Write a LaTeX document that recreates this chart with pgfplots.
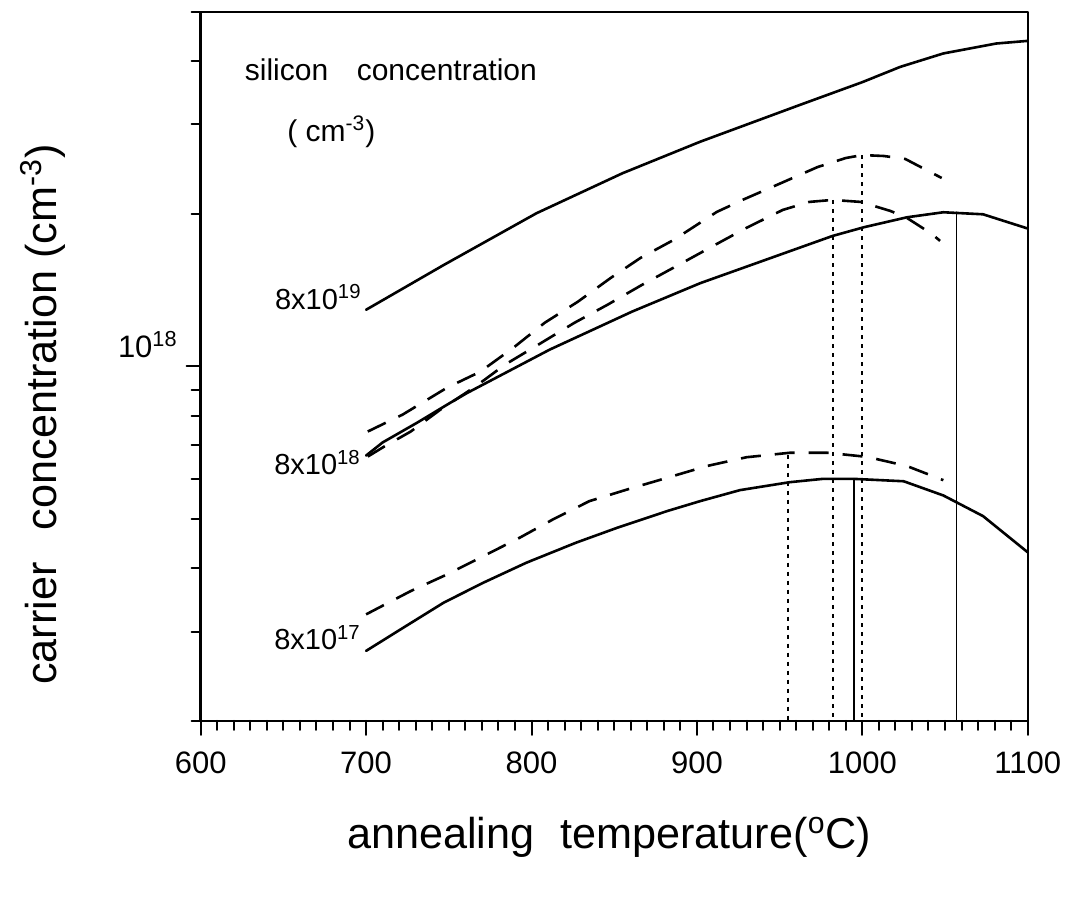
\documentclass[border=0pt]{standalone}
\usepackage{pgfplots}
\pgfplotsset{compat=1.18}
\usepackage{pgfplotstable}
\usepackage{fontspec}
\setmainfont{Liberation Sans}

\pgfplotstableread{
x y
700 1.293e18
747 1.585e18
803 2.004e18
855 2.403e18
902 2.773e18
962 3.275e18
1000 3.634e18
1023 3.896e18
1049 4.14e18
1081 4.331e18
1100 4.383e18
}\solidnineteen

\pgfplotstableread{
x y
700 6.67e17
710 7.08e17
731 7.75e17
751 8.48e17
761 8.86e17
811 1.079e18
861 1.283e18
902 1.459e18
982 1.808e18
1001 1.881e18
1027 1.968e18
1049 2.013e18
1073 1.995e18
1100 1.87e18
}\solideighteen

\pgfplotstableread{
x y
701 7.44e17
722 8.03e17
749 9.08e17
769 9.76e17
789 1.088e18
808 1.219e18
828 1.341e18
848 1.495e18
866 1.637e18
886 1.776e18
912 2.016e18
929 2.139e18
951 2.299e18
973 2.472e18
990 2.575e18
1000 2.61e18
1013 2.599e18
1026 2.564e18
1041 2.417e18
1048 2.352e18
}\dashedeighteenA

\pgfplotstableread{
x y
701 6.64e17
711 6.95e17
727 7.44e17
745 8.22e17
766 9.12e17
784 1.008e18
805 1.108e18
826 1.219e18
846 1.323e18
867 1.449e18
888 1.579e18
910 1.729e18
930 1.876e18
952 2.035e18
968 2.11e18
982 2.129e18
999 2.11e18
1017 2.025e18
1027 1.962e18
1042 1.825e18
1047 1.768e18
}\dashedeighteenB

\pgfplotstableread{
x y
700 2.748e17
721 3.032e17
747 3.422e17
771 3.747e17
797 4.102e17
827 4.492e17
852 4.808e17
882 5.184e17
902 5.424e17
926 5.701e17
956 5.91e17
976 6.0e17
995 6.0e17
1025 5.936e17
1049 5.565e17
1073 5.067e17
1100 4.30e17
}\solidseventeen

\pgfplotstableread{
x y
700 3.244e17
727 3.606e17
749 3.89e17
771 4.227e17
793 4.596e17
813 4.992e17
835 5.424e17
858 5.72e17
882 6.03e17
906 6.36e17
930 6.62e17
956 6.755e17
979 6.755e17
1003 6.63e17
1027 6.36e17
1049 5.965e17
}\dashedseventeen

\begin{document}
\begin{tikzpicture}
\begin{axis}[
  name=ax,
  scale only axis, width=413.5pt, height=354.5pt,
  ymode=log, xmin=600, xmax=1100, ymin=2e17, ymax=5e18,
  xtick={600,700,800,900,1000,1100},
  xticklabels={600,700,800,900,1000,1100},
  minor x tick num=9,
  ytick={1e18}, yticklabels={10\textsuperscript{18}},
  minor ytick={2e17,3e17,4e17,5e17,6e17,7e17,8e17,9e17,2e18,3e18,4e18,5e18},
  tick align=outside, tick pos=left,
  major tick length=7pt, minor tick length=4.5pt,
  tick style={black, line width=1pt},
  axis line style={line width=1.2pt},
  tick label style={font=\fontsize{15.5}{18}\selectfont},
  xticklabel style={yshift=-5pt},
  yticklabel style={yshift=11pt, xshift=-1pt},
  label style={font=\fontsize{21.6}{26}\selectfont},
  xlabel={annealing\hspace{0.6em}temperature(\textsuperscript{o}C)},
  ylabel={carrier\hspace{0.75em}concentration (cm\textsuperscript{-3})},
  xlabel style={at={([yshift=-58pt]axis description cs:0.494,0)}, anchor=center},
  ylabel style={at={([xshift=-79pt]axis description cs:0,0.432)}, anchor=center},
  line join=round, line cap=round,
]
\addplot[black, line width=1.3pt] table {\solidnineteen};
\addplot[black, line width=1.3pt] table {\solideighteen};
\addplot[black, line width=1.3pt, dash pattern=on 10pt off 7pt, line cap=butt] table {\dashedeighteenA};
\addplot[black, line width=1.3pt, dash pattern=on 10pt off 7pt, line cap=butt] table {\dashedeighteenB};
\addplot[black, line width=1.3pt] table {\solidseventeen};
\addplot[black, line width=1.3pt, dash pattern=on 10pt off 7pt, line cap=butt] table {\dashedseventeen};
% peak markers
\addplot[black, line width=0.9pt] coordinates {(1057,2.013e18) (1057,2e17)};
\addplot[black, line width=0.9pt] coordinates {(995,6.0e17) (995,2e17)};
\addplot[black, line width=1pt, dash pattern=on 2pt off 2.5pt, line cap=butt] coordinates {(955,6.70e17) (955,2e17)};
\addplot[black, line width=1pt, dash pattern=on 2pt off 2.5pt, line cap=butt] coordinates {(982,2.129e18) (982,2e17)};
\addplot[black, line width=1pt, dash pattern=on 2pt off 2.5pt, line cap=butt] coordinates {(1000,2.61e18) (1000,2e17)};
% annotations
\node[font=\fontsize{15}{18}\selectfont] at (axis cs:715,3.84e18) {silicon\hspace{0.95em}concentration};
\node[font=\fontsize{15}{18}\selectfont] at (axis cs:679,2.9e18) {( cm\textsuperscript{-3})};
\node[font=\fontsize{14.5}{17}\selectfont, anchor=east, inner sep=0pt] at (axis cs:697.5,1.37e18) {8x10\textsuperscript{19}};
\node[font=\fontsize{14.5}{17}\selectfont, anchor=east, inner sep=0pt] at (axis cs:697,6.46e17) {8x10\textsuperscript{18}};
\node[font=\fontsize{14.5}{17}\selectfont, anchor=east, inner sep=0pt] at (axis cs:697,2.92e17) {8x10\textsuperscript{17}};
\end{axis}
\pgfresetboundingbox
\useasboundingbox ([xshift=-100.35pt,yshift=-90.5pt]ax.south west) rectangle ([xshift=26.15pt,yshift=6pt]ax.north east);
\end{tikzpicture}
\end{document}
